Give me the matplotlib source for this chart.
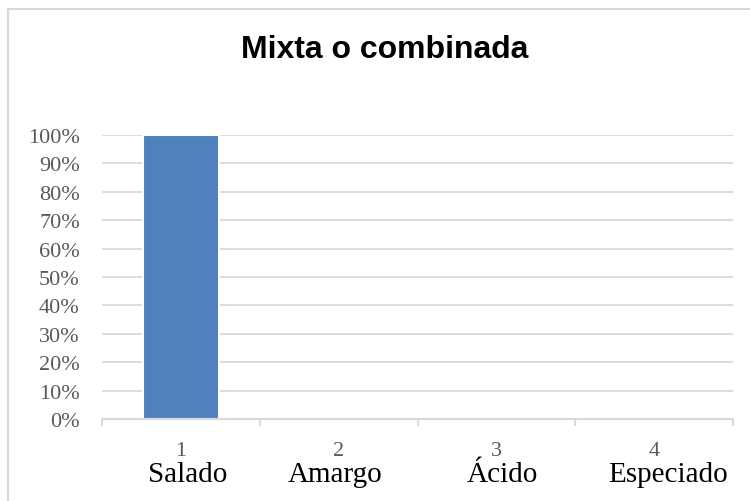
import matplotlib
matplotlib.use("Agg")
import matplotlib.pyplot as plt
from matplotlib.lines import Line2D
import matplotlib.transforms as mtransforms

title = "Mixta o combinada"
numbers = ["1", "2", "3", "4"]
categories = ["Salado", "Amargo", "Ácido", "Especiado"]
values = [1.00, 0.0, 0.0, 0.0]
name_offsets = [0.045, -0.022, 0.038, 0.086]  # label shift (category units)
yticks = [0.0, 0.1, 0.2, 0.3, 0.4, 0.5, 0.6, 0.7, 0.8, 0.9, 1.0]
yticklabels = ["0%", "10%", "20%", "30%", "40%", "50%", "60%", "70%", "80%", "90%", "100%"]

W, H = 750, 502
fig = plt.figure(figsize=(W / 100, H / 100), dpi=100)

serif = ["Liberation Serif", "DejaVu Serif"]
sans = ["Liberation Sans", "DejaVu Sans"]
grid_c = "#d9d9d9"
label_c = "#595959"

# outer chart border (left and top visible)
fig.add_artist(Line2D([7.5 / W, 7.5 / W], [0, 1 - 9.5 / H], transform=fig.transFigure,
                      color=grid_c, lw=1.5))
fig.add_artist(Line2D([7.5 / W, 1.0], [1 - 9.5 / H, 1 - 9.5 / H], transform=fig.transFigure,
                      color=grid_c, lw=1.5))

left, right, top, bottom = 102, 733, 136, 420
ax = fig.add_axes([left / W, 1 - bottom / H, (right - left) / W, (bottom - top) / H])

x = list(range(len(categories)))
ax.bar(x, values, width=0.48, color="#4f81bd", edgecolor="white", linewidth=1.5, zorder=3)

ax.set_xlim(-0.5, len(categories) - 0.5)
ax.set_ylim(0, 1.0)
ax.set_yticks(yticks)
ax.set_yticklabels(yticklabels, fontfamily=serif, fontsize=16, color=label_c)
ax.tick_params(axis="y", length=0, pad=16)
ax.grid(axis="y", color=grid_c, lw=1.3, zorder=0)
ax.set_axisbelow(True)

for s in ["top", "right", "left"]:
    ax.spines[s].set_visible(False)
ax.spines["bottom"].set_color(grid_c)
ax.spines["bottom"].set_linewidth(1.5)
ax.spines["bottom"].set_zorder(4)

ax.set_xticks([i - 0.5 for i in range(len(categories) + 1)])
ax.set_xticklabels([])
ax.tick_params(axis="x", length=5, width=1.5, color=grid_c, direction="out")

trans = mtransforms.blended_transform_factory(ax.transData, ax.transAxes)
for i, (n, c, off) in enumerate(zip(numbers, categories, name_offsets)):
    ax.text(i, -36 / (bottom - top), n, transform=trans, ha="center", va="baseline",
            fontfamily=serif, fontsize=16, color=label_c)
    ax.text(i + off, -62 / (bottom - top), c, transform=trans, ha="center", va="baseline",
            fontfamily=serif, fontsize=21, color="black")

fig.text(385 / W, 1 - 58 / H, title, ha="center", va="baseline",
         fontfamily=sans, fontweight="bold", fontsize=23, color="black")

fig.savefig("out.png", dpi=100)
